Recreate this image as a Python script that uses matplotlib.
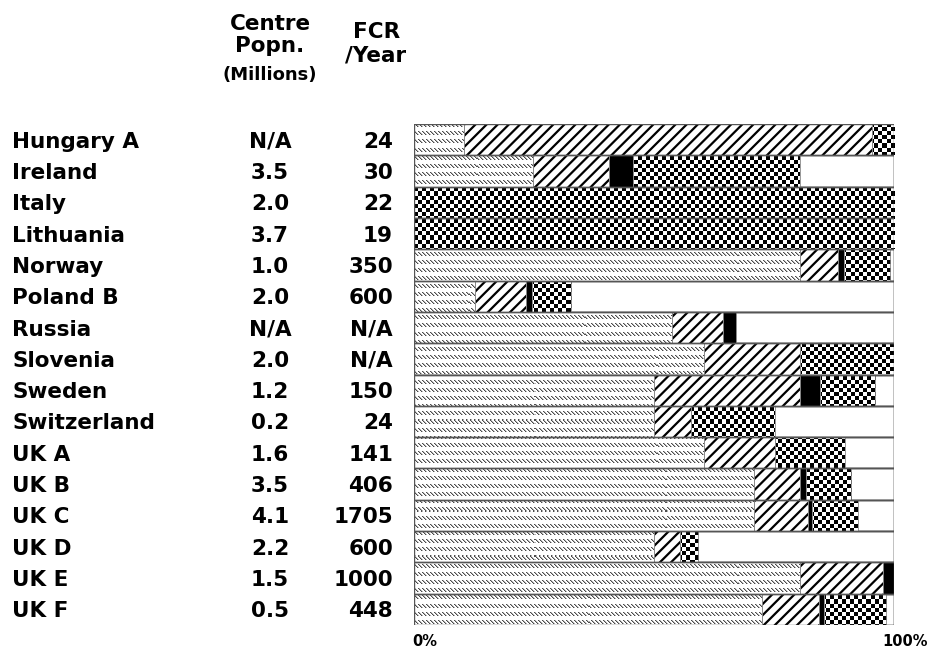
import numpy as np
import matplotlib
matplotlib.use("Agg")
import matplotlib.pyplot as plt
from matplotlib import transforms

# ---------------- data ----------------
centres = ["Hungary A", "Ireland", "Italy", "Lithuania", "Norway", "Poland B",
           "Russia", "Slovenia", "Sweden", "Switzerland", "UK A", "UK B",
           "UK C", "UK D", "UK E", "UK F"]
popn = ["N/A", "3.5", "2.0", "3.7", "1.0", "2.0", "N/A", "2.0", "1.2", "0.2",
        "1.6", "3.5", "4.1", "2.2", "1.5", "0.5"]
fcr = ["24", "30", "22", "19", "350", "600", "N/A", "N/A", "150", "24",
       "141", "406", "1705", "600", "1000", "448"]
# percentage segments (fine hatch, diagonal hatch, solid black, checker)
seg_fine = [10.4, 24.8, 0, 0, 80.5, 12.8, 53.8, 60.5, 50.0, 50.0, 60.5, 70.9, 70.9, 50.0, 80.5, 72.5]
seg_diag = [85.0, 15.9, 0, 0, 7.8, 10.6, 10.6, 20.0, 30.5, 7.8, 14.7, 9.6, 11.1, 5.4, 17.2, 11.8]
seg_black = [0, 5.0, 0, 0, 1.2, 1.2, 2.7, 0, 4.0, 0, 0, 1.1, 1.0, 0, 2.3, 1.1]
seg_check = [4.6, 34.7, 100, 100, 9.6, 8.2, 0, 19.5, 11.6, 17.4, 14.5, 9.4, 9.5, 3.8, 0, 13.0]
xtick_labels = ["0%", "100%"]

# ---------------- figure ----------------
W, H = 930, 653
AX_W, AX_H = 480, 501
fig = plt.figure(figsize=(W / 100, H / 100), dpi=100)
fig.patch.set_facecolor("white")
ax = fig.add_axes([414 / W, 28 / H, AX_W / W, AX_H / H])
n = len(centres)
EXT = (0, 100, n - 0.5, -0.5)

FONT = "DejaVu Sans"
y = np.arange(n)
fine = np.array(seg_fine)
diag = np.array(seg_diag)
blk = np.array(seg_black)
chk = np.array(seg_check)

# pixel textures (fill patterns)
rr, cc = np.mgrid[0:AX_H, 0:AX_W]
checker_tex = (((rr // 4) + (cc // 4)) % 2).astype(float)          # 0 = black
fine_tex = np.ones((AX_H, AX_W))
band = (rr % 8) < 4
fine_tex[band & (((cc - rr) % 4) == 0)] = 0.3
fine_tex[band & (((cc - rr) % 4) == 1)] = 0.7

# row boxes (0-100%)
ax.barh(y, [100] * n, height=1.0, color="white", edgecolor="#555555",
        linewidth=1.0, zorder=1)

# fine pattern segment
fine_bars = ax.barh(y, fine, left=0, height=1.0, facecolor="none",
                    edgecolor="none", linewidth=0.0, zorder=2)
for b in fine_bars:
    if b.get_width() > 0:
        im = ax.imshow(fine_tex, cmap="gray", vmin=0, vmax=1, interpolation="nearest",
                       extent=EXT, aspect="auto", zorder=2)
        im.set_clip_path(b)

# diagonal hatch
plt.rcParams["hatch.linewidth"] = 1.6
left = fine
ax.barh(y, diag, left=left, height=1.0, facecolor="white", edgecolor="black",
        hatch="///", linewidth=0.0, zorder=2)
left = left + diag
# solid black
ax.barh(y, blk, left=left, height=1.0, facecolor="black", edgecolor="black",
        linewidth=0.0, zorder=2)
left = left + blk
# checker segments
chk_bars = ax.barh(y, chk, left=left, height=1.0, facecolor="none",
                   edgecolor="none", linewidth=0.0, zorder=2)
for b in chk_bars:
    if b.get_width() > 0:
        im = ax.imshow(checker_tex, cmap="gray", vmin=0, vmax=1, interpolation="nearest",
                       extent=EXT, aspect="auto", zorder=2)
        im.set_clip_path(b)

# outlines over all segments
for vals, lefts in [(fine, np.zeros_like(fine)), (diag, fine), (blk, fine + diag),
                    (chk, fine + diag + blk)]:
    ax.barh(y, vals, left=lefts, height=1.0, facecolor="none",
            edgecolor="#888888", linewidth=0.6, zorder=3)
ax.barh(y, [100] * n, height=1.0, facecolor="none", edgecolor="#555555",
        linewidth=1.0, zorder=4)
ax.set_xlim(0, 100)
ax.set_ylim(n - 0.5, -0.5)
ax.axis("off")

# ---------------- text ----------------
fs = 15.5
row_tr = transforms.blended_transform_factory(fig.transFigure, ax.transData)
row_tr = transforms.offset_copy(row_tr, fig=fig, y=-8, units="dots")
for i in range(n):
    ax.text(12 / W, i, centres[i], transform=row_tr, ha="left", va="baseline",
            fontsize=fs, fontweight="bold", family=FONT)
    ax.text(270 / W, i, popn[i], transform=row_tr, ha="center", va="baseline",
            fontsize=fs, fontweight="bold", family=FONT)
    ax.text(393 / W, i, fcr[i], transform=row_tr, ha="right", va="baseline",
            fontsize=fs, fontweight="bold", family=FONT)

def fig_text(xp, yp, s, size, ha="center"):
    fig.text(xp / W, 1 - yp / H, s, ha=ha, va="baseline", fontsize=size,
             fontweight="bold", family=FONT)

fig_text(270, 30, "Centre", fs)
fig_text(270, 51.5, "Popn.", fs)
fig_text(270, 79.5, "(Millions)", 13)
fig_text(377, 38, "FCR", fs)
fig_text(376, 61.5, "/Year", fs)

tick_tr = transforms.offset_copy(ax.transData, fig=fig, x=11, y=0, units="dots")
tick_tr = transforms.blended_transform_factory(tick_tr, fig.transFigure)
for xv, lab in zip([0, 100], xtick_labels):
    ax.text(xv, 1 - 646.5 / H, lab, transform=tick_tr, ha="center", va="baseline",
            fontsize=10.5, fontweight="bold", family=FONT)

fig.savefig("out.png", dpi=100, facecolor="white")
